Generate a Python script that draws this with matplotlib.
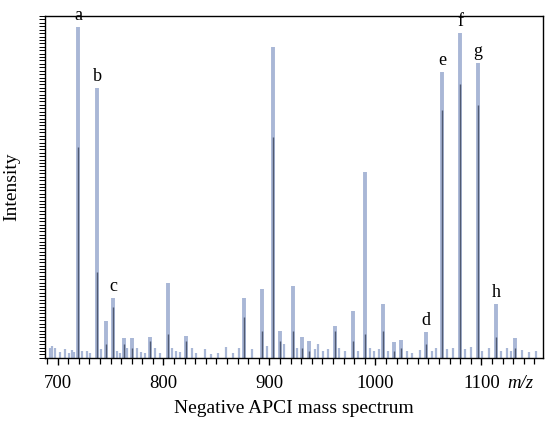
"""Negative APCI mass spectrum redrawn as a stick plot."""
import matplotlib

matplotlib.use("Agg")
import matplotlib.pyplot as plt
from matplotlib.ticker import MultipleLocator, LinearLocator, NullFormatter

# main peaks (m/z, relative intensity, height of the darker overlay)
peak_mz = [719.3, 737.3, 745.8, 752.4, 762.7, 770.0, 787.3, 804.5, 821.2,
           876.0, 892.6, 903.6, 910.0, 921.9, 930.4, 937.5, 961.8, 978.5,
           990.5, 1007.4, 1017.7, 1024.0, 1047.6, 1062.7, 1080.0, 1096.4,
           1113.7, 1131.6]
peak_int = [0.969, 0.789, 0.109, 0.175, 0.058, 0.058, 0.062, 0.218, 0.064,
            0.175, 0.200, 0.910, 0.080, 0.210, 0.062, 0.050, 0.092, 0.138,
            0.544, 0.157, 0.045, 0.052, 0.077, 0.837, 0.950, 0.862,
            0.157, 0.057]
peak_dark = [0.618, 0.250, 0.040, 0.150, 0.040, 0.030, 0.050, 0.070, 0.050,
             0.120, 0.080, 0.646, 0.050, 0.080, 0.030, 0.020, 0.080, 0.050,
             0.070, 0.080, 0.020, 0.030, 0.040, 0.725, 0.800, 0.740,
             0.060, 0.030]

# low-level noise along the baseline
noise_mz = [692.5, 695.0, 697.6, 702.0, 707.0, 710.5, 713.4, 716.0, 723.5,
            727.5, 731.0, 741.0, 756.0, 758.5, 766.0, 774.7, 779.0, 783.0,
            792.0, 797.0, 808.0, 812.0, 816.0, 826.6, 831.0, 839.0, 845.0,
            851.0, 859.0, 866.0, 871.0, 884.0, 898.0, 914.0, 926.0, 943.0,
            946.0, 951.0, 955.5, 966.0, 971.0, 984.0, 995.0, 999.0, 1003.0,
            1012.0, 1030.0, 1035.0, 1042.0, 1053.0, 1057.0, 1068.0, 1073.0,
            1085.0, 1089.8, 1101.0, 1107.0, 1119.0, 1123.8, 1128.0, 1138.0,
            1145.0, 1152.0]
noise_int = [0.030, 0.035, 0.028, 0.018, 0.025, 0.015, 0.022, 0.018, 0.020,
             0.020, 0.015, 0.025, 0.020, 0.015, 0.030, 0.030, 0.018, 0.015,
             0.030, 0.015, 0.030, 0.020, 0.018, 0.030, 0.015, 0.025, 0.012,
             0.015, 0.033, 0.015, 0.030, 0.025, 0.035, 0.040, 0.030, 0.025,
             0.040, 0.020, 0.025, 0.030, 0.020, 0.020, 0.030, 0.020, 0.025,
             0.020, 0.020, 0.015, 0.024, 0.020, 0.030, 0.025, 0.030,
             0.025, 0.033, 0.020, 0.030, 0.020, 0.028, 0.020, 0.023,
             0.018, 0.020]

peak_labels = {"a": 719.3, "b": 737.3, "c": 752.4, "d": 1047.6,
               "e": 1062.7, "f": 1080.0, "g": 1096.4, "h": 1113.7}

SERIF = ["Liberation Serif", "DejaVu Serif"]
LIGHT = "#a9b7d6"
DARK = "#505a72"

fig = plt.figure(figsize=(5.45, 4.22), dpi=100)
ax = fig.add_axes([0.0826, 0.152, 0.9134, 0.810])

ax.vlines(noise_mz, 0, noise_int, color=LIGHT, linewidth=1.6)
ax.vlines(peak_mz, 0, peak_int, color=LIGHT, linewidth=2.8)
ax.vlines(peak_mz, 0, peak_dark, color=DARK, linewidth=1.0)

for name, mz in peak_labels.items():
    height = peak_int[peak_mz.index(mz)]
    ax.annotate(name, (mz, height), xytext=(0, 2), textcoords="offset points",
                ha="center", va="bottom", fontsize=13, family=SERIF)

ax.set_xlim(688.2, 1158)
ax.set_ylim(0, 1.0)
ax.xaxis.set_major_locator(MultipleLocator(100))
ax.xaxis.set_minor_locator(MultipleLocator(10))
ax.yaxis.set_major_locator(LinearLocator(101))
ax.yaxis.set_major_formatter(NullFormatter())
ax.tick_params(axis="x", which="major", direction="out", length=5, width=1, pad=7,
               labelsize=13.5)
ax.tick_params(axis="x", which="minor", direction="out", length=4, width=0.9)
ax.tick_params(axis="y", which="major", direction="out", length=4, width=0.7)
for label in ax.get_xticklabels():
    label.set_family(SERIF)
for spine in ax.spines.values():
    spine.set_linewidth(1.0)

ax.set_xlabel("Negative APCI mass spectrum", fontsize=14, family=SERIF, labelpad=6)
ax.set_ylabel("Intensity", fontsize=14, family=SERIF, labelpad=10)
fig.text(520 / 545, 1 - 383 / 422, "m/z", fontsize=13.5, family=SERIF,
         style="italic", ha="center", va="center")

fig.savefig("out.png", dpi=100)
